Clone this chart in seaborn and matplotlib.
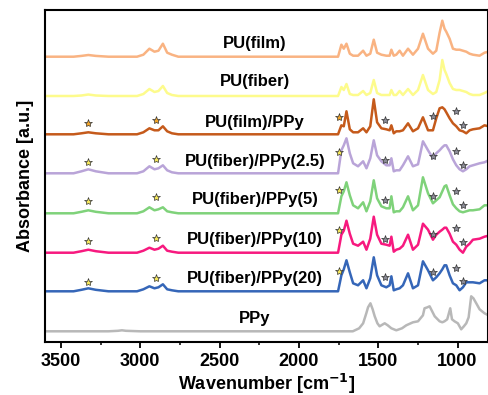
# FTIR spectra, stacked
import matplotlib
matplotlib.use("Agg")
import matplotlib.pyplot as plt
import seaborn as sns
import pandas as pd

# shared wavenumber grid for the PU based spectra (cm-1)
wn_pu = [3600, 3420, 3370, 3327, 3280, 3200, 3020, 2980, 2942, 2910, 2885, 2857, 2830, 2800, 2760, 2500, 2100, 1780,
         1753, 1732, 1717, 1700, 1679, 1658, 1627, 1595, 1574, 1550, 1528, 1507, 1480, 1449, 1428, 1417, 1402, 1386,
         1365, 1344, 1312, 1281, 1249, 1218, 1186, 1155, 1134, 1113, 1096, 1082, 1071, 1050, 1029, 1008, 987, 966,
         945, 924, 903, 861, 830, 805]

pu_film = [0, 0, 0.8, 1.7, 0.8, 0, 0, 2, 8, 5, 6, 13, 4, 2, 0, 0, 0, 0,
           0, 12, 8, 13, 3, 1, 1, 6, 1, 3, 17, 4, 2, 1, 1, 7, 1, 2,
           6, 1, 8, 2, 8, 23, 8, 3, 6, 24, 36, 28, 25, 18, 8, 7, 7, 6,
           5, 3, 2, 1, 4, 5]
pu_fiber = [0, 0, 0.5, 1.5, 0.5, 0, 0, 2, 7, 4, 5, 10, 3, 1, 0, 0, 0, 0,
            0, 9, 6, 12, 2, 1, 1, 5, 1, 3, 16, 3, 1, 1, 1, 6, 1, 1,
            5, 1, 7, 1, 6, 21, 6, 2, 4, 16, 36, 26, 22, 13, 7, 6, 6, 5,
            4, 2, 1, 1, 3, 5]
pu_film_ppy = [0, 0, 1, 2, 1, 0, 0, 2, 6, 4, 4, 8, 3, 1, 0, 0, 0, 0,
               0, 9, 8, 23, 5, 2, 2, 6, 2, 8, 35, 12, 6, 5, 4, 9, 1, 3,
               3, 4, 11, 3, 6, 17, 4, 4, 16, 26, 27, 25, 22, 16, 11, 8, 4, 3,
               1, 4, 5, 6, 9, 8]
pu_fiber_ppy_2_5 = [0, 0, 2, 4, 2, 0, 0, 2, 7, 4, 5, 8, 3, 1, 0, 0, 0, 0,
                    0, 23, 28, 35, 20, 10, 7, 12, 5, 15, 33, 18, 12, 8, 8, 15, 2, 3,
                    3, 8, 17, 7, 9, 32, 23, 15, 20, 23, 26, 28, 28, 22, 14, 8, 4, 2,
                    4, 7, 8, 10, 11, 13]
pu_fiber_ppy_5 = [0, 0, 1.5, 3, 1.5, 0, 0, 2, 6, 3, 4, 6, 2, 1, 0, 0, 0, 0,
                  0, 17, 22, 31, 18, 8, 5, 11, 2, 12, 33, 15, 7, 5, 5, 17, 1, 2,
                  2, 6, 17, 3, 8, 36, 20, 10, 13, 16, 22, 27, 28, 18, 9, 5, 2, 1,
                  2, 3, 3, 4, 8, 8]
pu_fiber_ppy_10 = [0, 0, 1.5, 3, 1.5, 0, 0, 2, 5, 3, 4, 7, 2, 1, 0, 0, 0, 0,
                   0, 18, 22, 32, 19, 9, 7, 11, 3, 14, 36, 18, 9, 8, 7, 16, 1, 3,
                   4, 7, 18, 3, 8, 29, 23, 13, 18, 21, 23, 25, 25, 19, 11, 8, 3, 0,
                   6, 9, 13, 14, 16, 17]
pu_fiber_ppy_20 = [0, 0, 1.5, 3, 1.5, 0, 0, 2, 5, 3, 4, 7, 2, 1, 0, 0, 0, 0,
                   0, 16, 22, 31, 19, 8, 6, 11, 3, 13, 34, 16, 6, 4, 6, 15, 1, 2,
                   3, 6, 18, 3, 6, 30, 21, 11, 14, 18, 22, 26, 26, 16, 8, 6, 1, 4,
                   9, 9, 9, 8, 11, 11]

wn_ppy = [3600, 3200, 3140, 3115, 3090, 3000, 2000, 1660, 1620, 1595, 1575, 1564, 1549, 1535, 1522, 1505, 1491,
          1470, 1459, 1440, 1417, 1386, 1350, 1323, 1281, 1249, 1218, 1208, 1190, 1176, 1160, 1144, 1113, 1096,
          1082, 1065, 1046, 1035, 1019, 998, 977, 960, 945, 930, 914, 900, 882, 861, 830, 805]
ppy = [0, 0, 0.5, 1, 0.5, 0, 0, 0, 3, 8, 18, 24, 28, 22, 15, 8, 5,
       7, 8, 6, 3, 1, 3, 6, 9, 10, 16, 23, 24, 25, 20, 15, 10, 9,
       10, 12, 23, 12, 10, 8, 2, 5, 8, 14, 35, 33, 28, 22, 18, 16]

names = ['PU(film)', 'PU(fiber)', 'PU(film)/PPy', 'PU(fiber)/PPy(2.5)',
         'PU(fiber)/PPy(5)', 'PU(fiber)/PPy(10)', 'PU(fiber)/PPy(20)', 'PPy']
offsets = [285.3, 246, 207.7, 168.7, 128.7, 89.3, 50.7, 10.7]
label_y = [298, 260, 219, 180, 142, 102, 64, 24]
colores = ['#f9b382', '#fdfb8c', '#c55a1b', '#b9a4d8', '#7fd27a', '#f7197f', '#3566b8', '#b8b8b8']

# star marks (wavenumber, height above own baseline)
star_wn = [3327, 2900, 1747, 1459, 1157, 1008, 967]
star_h = {
    'PU(film)/PPy': [11, 14, 17, 14, 18, 23, 9],
    'PU(fiber)/PPy(2.5)': [11, 14, 21, 13, 17, 22, 8],
    'PU(fiber)/PPy(5)': [12, 16, 23, 13, 17, 22, 8],
    'PU(fiber)/PPy(10)': [12, 15, 23, 14, 19, 25, 11],
    'PU(fiber)/PPy(20)': [9, 13, 20, 14, 19, 23, 10],
}

sns.set_style('ticks')
plt.rcParams['font.family'] = ['Liberation Sans', 'DejaVu Sans']
plt.rcParams['text.color'] = 'black'
plt.rcParams['axes.labelcolor'] = 'black'
plt.rcParams['xtick.color'] = 'black'

fig = plt.figure(figsize=(4.89, 3.95), dpi=100)
ax = fig.add_axes([45 / 489, 1 - 342 / 395, 443 / 489, 332 / 395])

series = [pu_film, pu_fiber, pu_film_ppy, pu_fiber_ppy_2_5, pu_fiber_ppy_5,
          pu_fiber_ppy_10, pu_fiber_ppy_20, ppy]
for name, h, off, col in zip(names, series, offsets, colores):
    x = wn_ppy if name == 'PPy' else wn_pu
    df = pd.DataFrame({'wn': x, 'abs': [v + off for v in h]})
    sns.lineplot(data=df, x='wn', y='abs', color=col, linewidth=1.8,
                 estimator=None, ax=ax)

for name, off in zip(names, offsets):
    if name not in star_h:
        continue
    cara = '#f2a52a' if name == 'PU(film)/PPy' else '#f4e65a'
    for i, (w, h) in enumerate(zip(star_wn, star_h[name])):
        fc = cara if i < 3 else '#8a8a95'
        ax.plot(w, off + h, marker='*', markersize=6, markerfacecolor=fc,
                markeredgecolor='#333333', markeredgewidth=0.5, linestyle='none')

for name, yl in zip(names, label_y):
    ax.text(2277, yl, name, ha='center', va='center', fontsize=12, fontweight='bold')

ax.set_xlim(3600, 808)
ax.set_ylim(0, 332)
ax.set_xticks([3500, 3000, 2500, 2000, 1500, 1000])
ax.set_xticks([3250, 2750, 2250, 1750, 1250], minor=True)
ax.set_yticks([])
ax.tick_params(axis='x', which='major', direction='out', length=4, width=1.3,
               labelsize=13, pad=4)
ax.tick_params(axis='x', which='minor', direction='out', length=2.5, width=1.1)
for lab in ax.get_xticklabels():
    lab.set_fontweight('bold')
for s in ax.spines.values():
    s.set_visible(True)
    s.set_linewidth(1.5)
    s.set_color('black')

ax.set_xlabel('Wavenumber [cm$^{\\mathbf{-1}}$]', fontsize=13, fontweight='bold', labelpad=1)
ax.set_ylabel('Absorbance [a.u.]', fontsize=13, fontweight='bold', labelpad=8)

fig.savefig('out.png', dpi=100)
plt.close()
